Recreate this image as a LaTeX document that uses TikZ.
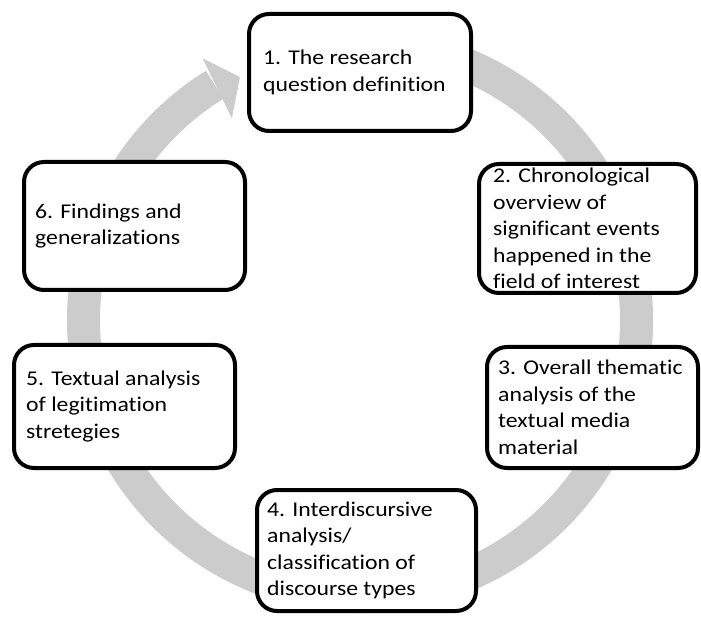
\documentclass[tikz,border=0pt]{standalone}
\usepackage{fontspec}
\setmainfont{Carlito}[FakeStretch=1.13, Ligatures=NoCommon]
\definecolor{ringgray}{RGB}{204,204,204}
\tikzset{
  stagebox/.style={draw=black, fill=white, line width=4pt, rounded corners=20pt, inner sep=0pt},
  stagetext/.style={anchor=west, inner sep=0pt, align=left, font=\fontsize{21}{26.5}\selectfont},
}
\begin{document}
\begin{tikzpicture}[x=1pt,y=1pt]
\useasboundingbox (0,0) rectangle (701,616);
\coordinate (C) at (360,296);
% ring with arrow head
\begin{scope}[shift={(C)}]
  \draw[ringgray, line width=33pt] (100:276.5) arc[start angle=100, end angle=-238.3, radius=276.5];
  \fill[ringgray] (121.0:305) -- (116.3:271) -- (122.4:239) -- cycle;
  \fill[ringgray] (121.0:305) -- (122.4:239) -- (121.7-1.5:260) -- (121.7-1.5:293) -- cycle;
\end{scope}
% boxes
\node[stagebox, minimum width=222pt, minimum height=117pt] (b1) at (360,543.5) {};
\node[stagebox, minimum width=217pt, minimum height=129pt] (b2) at (587.5,387.5) {};
\node[stagebox, minimum width=211pt, minimum height=121pt] (b3) at (592.5,208.5) {};
\node[stagebox, minimum width=219pt, minimum height=121pt] (b4) at (366.5,65.5) {};
\node[stagebox, minimum width=221pt, minimum height=123pt] (b5) at (124.5,209.5) {};
\node[stagebox, minimum width=221pt, minimum height=128pt] (b6) at (134.5,390) {};
% texts
\node[stagetext] (t1) at ([xshift=16pt]b1.west) {1. The research\\question definition};
\node[stagetext] (t2) at ([xshift=16pt]b2.west) {2. Chronological\\overview of\\significant events\\happened in the\\field of interest};
\node[stagetext] (t3) at ([xshift=13pt]b3.west) {3. Overall thematic\\analysis of the\\textual media\\material};
\node[stagetext] (t4) at ([xshift=12pt]b4.west) {4. Interdiscursive\\analysis/\\classification of\\discourse types};
\node[stagetext] (t5) at ([xshift=14pt]b5.west) {5. Textual analysis\\of legitimation\\stretegies};
\node[stagetext] (t6) at ([xshift=13pt]b6.west) {6. Findings and\\generalizations};
\end{tikzpicture}
\end{document}
